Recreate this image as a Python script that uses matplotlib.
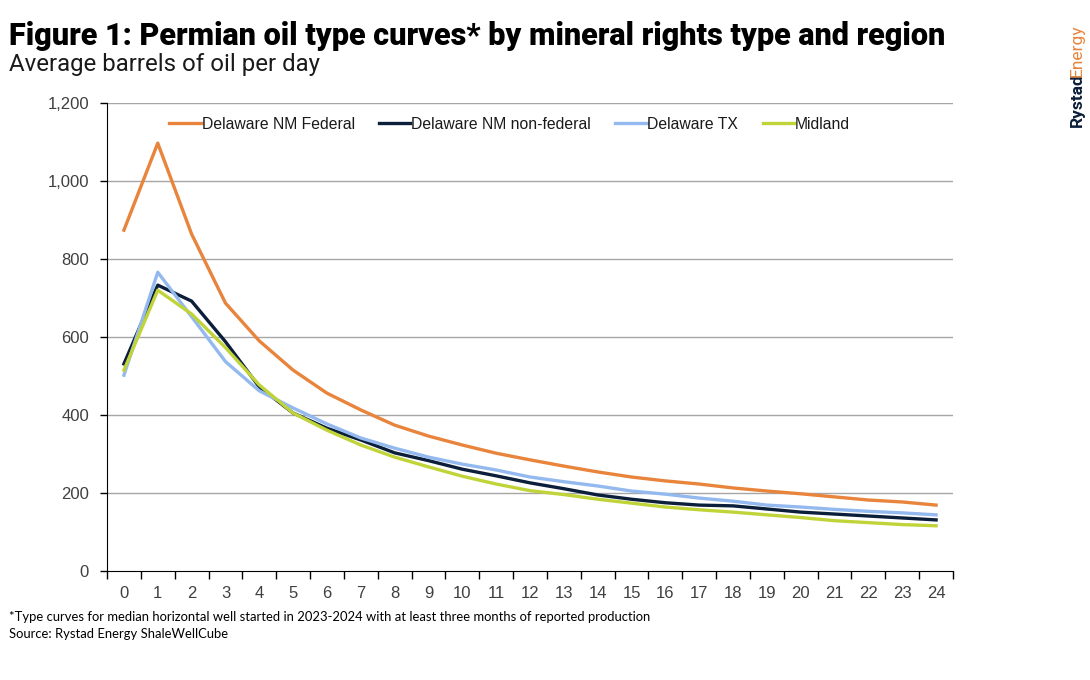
import matplotlib.pyplot as plt
import numpy as np

months = list(range(25))
series_names = ['Delaware NM Federal', 'Delaware NM non-federal', 'Delaware TX', 'Midland']

nm_federal = [874, 1097, 864, 687, 590, 515, 456, 413, 374, 346, 323, 302, 285,
              269, 254, 241, 231, 223, 213, 205, 198, 190, 182, 177, 169]
nm_nonfederal = [531, 733, 692, 588, 472, 405, 366, 336, 303, 283, 261, 244, 226,
                 211, 195, 184, 175, 169, 167, 159, 151, 146, 141, 136, 131]
delaware_tx = [502, 766, 652, 537, 462, 418, 377, 341, 315, 292, 274, 259, 241,
               229, 218, 205, 197, 187, 179, 169, 164, 158, 153, 149, 144]
midland = [515, 720, 659, 573, 477, 405, 361, 323, 292, 267, 243, 223, 206,
           196, 184, 174, 164, 157, 151, 144, 137, 129, 124, 119, 116]

colors = ['#E8843C', '#0B1E3A', '#93B9EE', '#C0D43A']

fig = plt.figure(figsize=(10.9, 6.8), dpi=100)
ax = fig.add_axes([107 / 1090, 1 - 571 / 680, 846 / 1090, 468 / 680])

x = np.arange(len(months))
for vals, name, c in zip([nm_federal, nm_nonfederal, delaware_tx, midland], series_names, colors):
    ax.plot(x, vals, color=c, lw=2.4, label=name, solid_joinstyle='round')

ax.set_xlim(-0.5, len(months) - 0.5)
ax.set_ylim(0, 1200)
ax.set_yticks(range(0, 1201, 200))
ax.set_yticklabels([f'{v:,}' for v in range(0, 1201, 200)], family='Liberation Sans')
ax.set_xticks(x)
ax.set_xticklabels([str(m) for m in months], family='Liberation Sans')
ax.set_xticks(np.arange(-0.5, len(months), 1), minor=True)
ax.tick_params(axis='x', which='major', length=0, pad=11, labelsize=12, labelcolor='#404040')
ax.tick_params(axis='x', which='minor', length=6, width=1, color='black', direction='out')
ax.tick_params(axis='y', length=5, width=1, color='black', labelsize=12, labelcolor='#404040', pad=8)

for v in range(200, 1201, 200):
    ax.axhline(v, color='#A6A6A6', lw=1, zorder=0)
for s in ['top', 'right']:
    ax.spines[s].set_visible(False)
ax.spines['left'].set_color('black')
ax.spines['bottom'].set_color('black')

leg = ax.legend(loc='center', bbox_to_anchor=(0.476, 0.955), ncol=4, frameon=False,
                prop={'family': 'Liberation Sans', 'size': 11.3},
                handlelength=2.0, handletextpad=0.05, columnspacing=1.55)
for t in leg.get_texts():
    t.set_color('#1a1a1a')

fig.text(9 / 1090, 1 - 36 / 680, 'Figure 1: Permian oil type curves* by mineral rights type and region',
         fontsize=22.1, fontweight='heavy', family='Roboto', va='center', ha='left', color='black')
fig.text(9 / 1090, 1 - 64 / 680, 'Average barrels of oil per day',
         fontsize=17.3, family='Roboto', va='center', ha='left', color='#1a1a1a')

fig.text(9 / 1090, 1 - 617 / 680,
         '*Type curves for median horizontal well started in 2023-2024 with at least three months of reported production',
         fontsize=9.4, family='Lato', va='center', ha='left', color='black')
fig.text(9 / 1090, 1 - 634 / 680, 'Source: Rystad Energy ShaleWellCube',
         fontsize=9.4, family='Lato', va='center', ha='left', color='black')

# logo: two stacked rotated words
fig.text(1077 / 1090, 1 - 127 / 680, 'Rystad', rotation=90, fontsize=12.5, fontweight='bold',
         family='Roboto', color='#0B1E3A', ha='center', va='bottom')
fig.text(1077 / 1090, 1 - 77 / 680, 'Energy', rotation=90, fontsize=12.5,
         family='Roboto', color='#E8843C', ha='center', va='bottom')

fig.savefig('out.png', dpi=100)
